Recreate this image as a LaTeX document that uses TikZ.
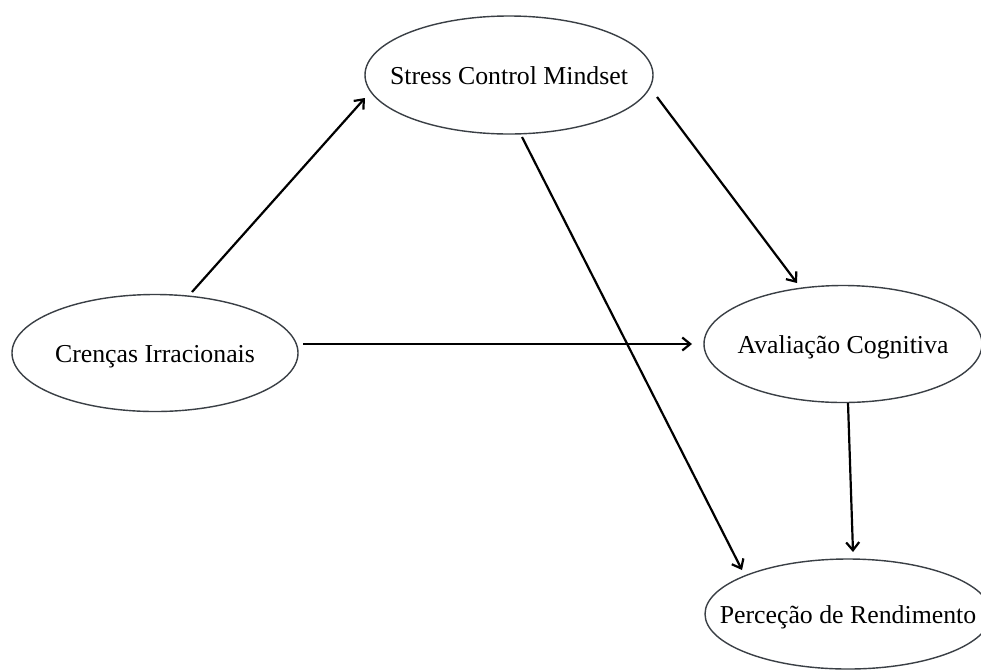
\documentclass[tikz,border=0pt]{standalone}
\usepackage{fontspec}
\setmainfont{Liberation Serif}
\usetikzlibrary{shapes.geometric,arrows.meta}
\definecolor{edgegray}{HTML}{3A3F45}
\newcommand{\ctxt}[1]{\makebox[0pt][c]{\raisebox{-0.36em}{#1}}}
\tikzset{
  construct/.style={draw=edgegray, line width=1.4pt, ellipse, inner sep=0pt,
    text height=0pt, text depth=0pt,
    font=\fontsize{25.8}{30}\selectfont, text=black},
  path arrow/.style={draw=black, line width=2.2pt, -{Straight Barb[length=8pt,width=13pt,line width=2.2pt]}}
}
\begin{document}
\begin{tikzpicture}[x=1pt,y=-1pt]
\useasboundingbox (0,0) rectangle (981,670);
\fill[white] (0,0) rectangle (981,670);
\node[construct, minimum width=288pt, minimum height=118pt] (stress) at (509,75) {\ctxt{Stress Control Mindset}};
\node[construct, minimum width=286pt, minimum height=117pt] (crenca) at (155,353) {\ctxt{Crenças Irracionais}};
\node[construct, minimum width=278pt, minimum height=117pt] (aval) at (843,344) {\ctxt{Avaliação Cognitiva}};
\node[construct, minimum width=286pt, minimum height=110pt] (perc) at (848,614) {\ctxt{Perceção de Rendimento}};

\draw[path arrow] ([xshift=37pt,yshift=61pt]crenca.center) -- ([xshift=-144pt,yshift=-23pt]stress.center);
\draw[path arrow] ([xshift=148pt,yshift=-22pt]stress.center) -- ([xshift=-46pt,yshift=61pt]aval.center);
\draw[path arrow] ([xshift=13pt,yshift=-62pt]stress.center) -- ([xshift=-106pt,yshift=44pt]perc.center);
\draw[path arrow] ([xshift=148pt,yshift=9pt]crenca.center) -- ([xshift=-151pt,yshift=0pt]aval.center);
\draw[path arrow] ([xshift=5pt,yshift=-59pt]aval.center) -- ([xshift=5pt,yshift=62pt]perc.center);
\end{tikzpicture}
\end{document}
